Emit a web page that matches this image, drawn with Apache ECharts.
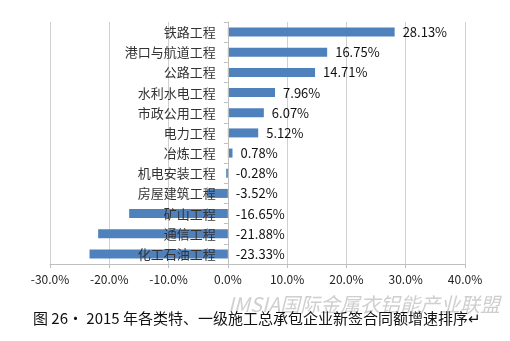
<!DOCTYPE html>
<html><head><meta charset="utf-8">
<script src="https://cdn.jsdelivr.net/npm/echarts@6/dist/echarts.min.js"></script>
<style>html,body{margin:0;padding:0;background:#fff}#c{width:510px;height:341px}</style>
</head><body><div id="c"></div>
<script>
const categories = ['铁路工程','港口与航道工程','公路工程','水利水电工程','市政公用工程','电力工程','冶炼工程','机电安装工程','房屋建筑工程','矿山工程','通信工程','化工石油工程'];
const values = [28.13, 16.75, 14.71, 7.96, 6.07, 5.12, 0.78, -0.28, -3.52, -16.65, -21.88, -23.33];
const xTicks = [-30, -20, -10, 0, 10, 20, 30, 40];
const caption = '图 26· 2015 年各类特、一级施工总承包企业新签合同额增速排序↵';
const watermark = 'IMSIA国际金属衣铝能产业联盟';

const gridLeft = 50, gridRight = 45, W = 510;
const xMin = xTicks[0], xMax = xTicks[xTicks.length-1];
const zeroOffset = -(0 - xMin) / (xMax - xMin) * (W - gridLeft - gridRight);

const chart = echarts.init(document.getElementById('c'));
const font = '"Noto Sans CJK SC", "Noto Sans", sans-serif';
chart.setOption({
  animation: false,
  grid: {left: gridLeft, right: gridRight, top: 22, bottom: 77, containLabel: false, outerBoundsMode: 'none'},
  xAxis: {
    type: 'value', min: xMin, max: xMax, interval: 10,
    axisLine: {show: true, lineStyle: {color: '#bfbfbf'}},
    axisTick: {show: true, length: 4, lineStyle: {color: '#bfbfbf'}},
    splitLine: {show: true, lineStyle: {color: '#d0d0d0'}},
    axisLabel: {formatter: v => v.toFixed(1) + '%', color: '#222', fontSize: 12, fontFamily: font, margin: 9}
  },
  yAxis: {
    type: 'category', data: categories, inverse: true, z: 10, offset: zeroOffset,
    axisLine: {show: true, onZero: false, lineStyle: {color: '#bfbfbf'}},
    axisTick: {show: true, length: 4, inside: false, lineStyle: {color: '#bfbfbf'}},
    axisLabel: {color: '#333', fontSize: 13, fontFamily: font, margin: 12}
  },
  series: [{
    type: 'bar', data: values, barWidth: 9,
    itemStyle: {color: '#4F81BD'},
    label: {show: true, position: 'right', distance: 8, color: '#111', fontSize: 13, fontFamily: font,
      formatter: p => p.value.toFixed(2) + '%'}
  }],
  graphic: [
    {type: 'text', left: 228, top: 294, style: {text: watermark, fill: '#cfcfcf', font: 'italic 20px ' + font}},
    {type: 'text', left: 33, top: 311, style: {text: caption, fill: '#111', font: '15px ' + font}}
  ]
});
</script></body></html>
